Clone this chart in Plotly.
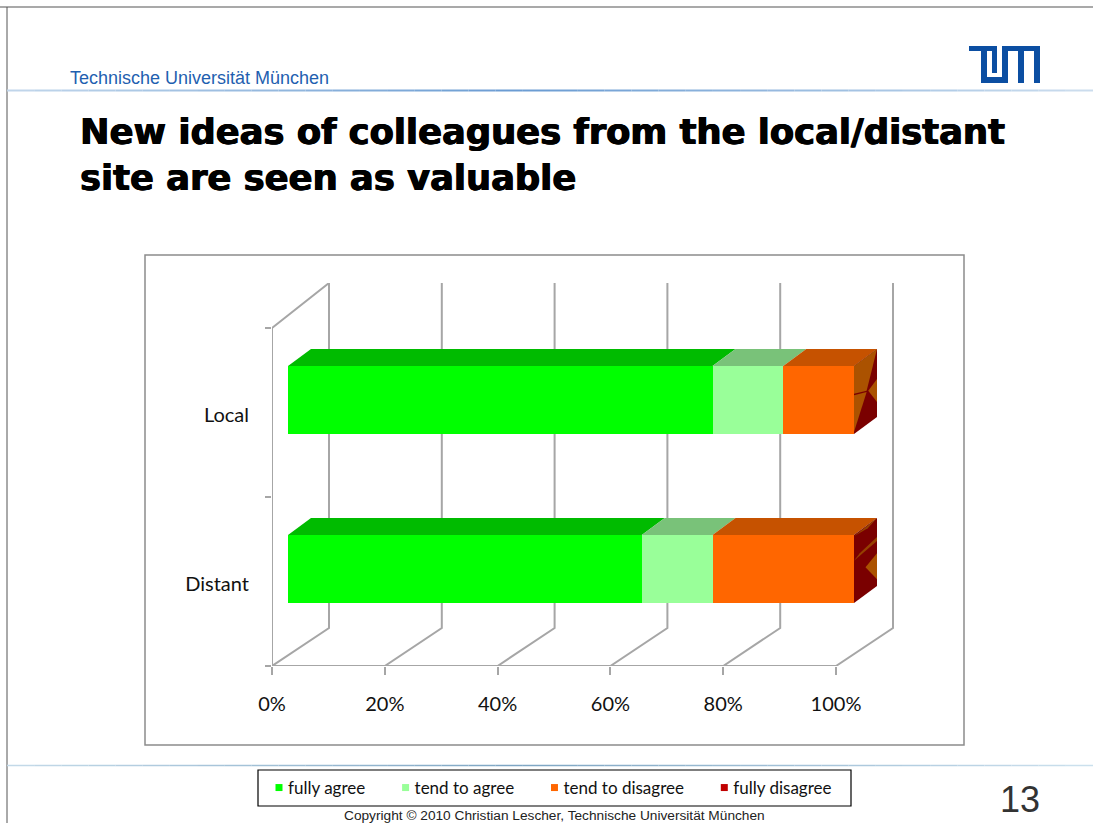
import plotly.graph_objects as go

# --- Data (percent of answers) ---
categories = ["Distant", "Local"]
fully_agree = [62.5, 75.0]
tend_agree = [12.5, 12.5]
tend_disagree = [25.0, 12.5]
fully_disagree = [0.0, 0.0]

tick_vals = [0, 20, 40, 60, 80, 100]
tick_text = ["0%", "20%", "40%", "60%", "80%", "100%"]

W, H = 1093, 823
AXIS_COLOR = "#a6a6a6"
FONT_LABEL = "Lato"
FONT_SLIDE = "Liberation Sans"


def px(x):
    return x / W


def py(y):
    return 1 - y / H


# fake 3D: how far the back wall and the bar tops are pushed, in axis units
WALL_DX = 57 / 5.64
WALL_DY = 38 / 169
WALL_TOP_DY = 45 / 169
BAR_DX = 23 / 5.66
BAR_DY = 17 / 169
BAR_H = 68 / 169
BAR_Y = [0.574, 1.574]

series = [
    ("fully agree", fully_agree, "#00ff00", "#00bb00"),
    ("tend to agree", tend_agree, "#99ff99", "#79c279"),
    ("tend to disagree", tend_disagree, "#ff6600", "#c65200"),
    ("fully disagree", fully_disagree, "#c00000", "#7a0000"),
]

fig = go.Figure()


def add_poly(xs, ys, color, xaxis="x2"):
    fig.add_trace(go.Scatter(
        x=xs + xs[:1], y=ys + ys[:1], xaxis=xaxis, yaxis="y", mode="lines",
        fill="toself", fillcolor=color, line=dict(width=0),
        showlegend=False, hoverinfo="skip",
    ))


def add_wire(xs, ys, width=1.5):
    fig.add_trace(go.Scatter(
        x=xs, y=ys, xaxis="x", yaxis="y", mode="lines", cliponaxis=False,
        line=dict(color=AXIS_COLOR, width=width),
        showlegend=False, hoverinfo="skip",
    ))


# back wall gridlines with their floor diagonals
for t in tick_vals:
    add_wire([t, t + WALL_DX, t + WALL_DX], [0, WALL_DY, 2 + WALL_TOP_DY], width=2)

# left wall and floor
add_wire([0, 0, WALL_DX], [0, 2, 2 + WALL_TOP_DY], width=2)
add_wire([0, 100], [0, 0], width=2)

# front faces of the bars, stacked through base
bases = [0.0, 0.0]
for name, vals, front, top in series:
    fig.add_trace(go.Bar(
        y=BAR_Y, x=vals, base=list(bases), width=BAR_H, orientation="h",
        xaxis="x2", yaxis="y", marker=dict(color=front, line=dict(width=0)),
        showlegend=False, name=name,
    ))
    for i in range(2):
        if vals[i] == 0:
            continue
        x0, x1 = bases[i], bases[i] + vals[i]
        yt = BAR_Y[i] + BAR_H / 2
        add_poly([x0, x1, x1 + BAR_DX, x0 + BAR_DX], [yt, yt, yt + BAR_DY, yt + BAR_DY], top)
    bases = [b + v for b, v in zip(bases, vals)]


# end caps: the empty "fully disagree" slice shows as dark red with brown facets
def cap_poly(i, pts, color):
    end = bases[i]
    y0 = BAR_Y[i] - BAR_H / 2
    xs = [end + u * BAR_DX for u, v in pts]
    ys = [y0 + v * BAR_H + u * BAR_DY for u, v in pts]
    add_poly(xs, ys, color)


BROWN = "#ab5200"
DARK = "#7a0000"
for i in range(2):
    cap_poly(i, [(0, 0), (1, 0), (1, 1), (0, 1)], DARK)
cap_poly(1, [(0, 1), (1, 1), (0.55, 0.5), (0, 0.59)], BROWN)
cap_poly(1, [(0, 0.57), (0.55, 0.48), (0, 0.03)], BROWN)
cap_poly(1, [(0.62, 0.48), (1, 0.56), (1, 0.22)], BROWN)
cap_poly(0, [(0.5, 0.4), (1, 0.48), (1, 0.1)], BROWN)
cap_poly(0, [(0.0, 0.62), (0.25, 0.67), (1, 0.72), (1, 0.66)], "#964000")
cap_poly(0, [(0.0, 0.98), (0.6, 0.95), (1, 1)], "#964000")

# legend entries: small squares, no data. standoff slides the square towards its text
for name, vals, front, top in series:
    fig.add_trace(go.Scatter(
        x=[None], y=[None], xaxis="x", yaxis="y", mode="markers", name=name + "\u00a0",
        marker=dict(symbol="square", size=7, color=front, angle=90, standoff=11),
    ))

shapes = []


def fade_rule(y, x0, x1, peak, width, dark, light, n=40):
    # thin rule that fades to light towards both ends
    for k in range(n):
        a = x0 + (x1 - x0) * k / n
        b = x0 + (x1 - x0) * (k + 1) / n
        m = (a + b) / 2
        d = abs(m - peak) / max(peak - x0, x1 - peak)
        c = [round(dark[j] + (light[j] - dark[j]) * d) for j in range(3)]
        shapes.append(dict(type="line", xref="paper", yref="paper",
                           x0=px(a), x1=px(b), y0=py(y), y1=py(y),
                           line=dict(color=f"rgb({c[0]},{c[1]},{c[2]})", width=width)))


# slide frame, rules, chart frame, legend box
shapes.append(dict(type="line", xref="paper", yref="paper", x0=0, x1=1,
                   y0=py(7), y1=py(7), line=dict(color="#8c8c8c", width=1.5)))
shapes.append(dict(type="line", xref="paper", yref="paper", x0=px(7), x1=px(7),
                   y0=py(7), y1=0, line=dict(color="#555555", width=1)))
fade_rule(90.5, 7, W, 520, 2, (105, 155, 210), (205, 222, 238))
fade_rule(765.5, 7, W, 520, 1.5, (125, 165, 195), (205, 225, 238))
shapes.append(dict(type="rect", xref="paper", yref="paper", x0=px(145), x1=px(964),
                   y0=py(745), y1=py(255), line=dict(color="#8c8c8c", width=1.5)))
shapes.append(dict(type="rect", xref="paper", yref="paper", x0=px(258), x1=px(851),
                   y0=py(806), y1=py(770), line=dict(color="#000000", width=1.2)))

# TUM logo
logo = [(969, 46), (997, 46), (997, 73), (992, 73), (992, 51), (987, 51), (987, 77), (1002, 77),
        (1002, 46), (1040, 46), (1040, 83), (1034, 83), (1034, 51), (1024, 51), (1024, 83),
        (1018, 83), (1018, 51), (1008, 51), (1008, 83), (981, 83), (981, 51), (969, 51)]
logo_path = "M " + " L ".join(f"{px(x):.5f},{py(y):.5f}" for x, y in logo) + " Z"
shapes.append(dict(type="path", xref="paper", yref="paper", path=logo_path,
                   fillcolor="#0b4ea2", line=dict(width=0)))

annotations = [
    dict(text="Technische Universität München", x=px(68), y=py(78), xref="paper", yref="paper",
         xanchor="left", yanchor="middle", showarrow=False,
         font=dict(family=FONT_SLIDE, size=18, color="#1f5fb0")),
    dict(text="13", x=px(1020), y=py(799), xref="paper", yref="paper",
         xanchor="center", yanchor="middle", showarrow=False,
         font=dict(family=FONT_SLIDE, size=36, color="#333333")),
    dict(text="Copyright © 2010 Christian Lescher, Technische Universität München",
         x=px(554), y=py(815), xref="paper", yref="paper",
         xanchor="center", yanchor="middle", showarrow=False,
         font=dict(family=FONT_SLIDE, size=13.7, color="#222222")),
]

fig.update_layout(
    width=W, height=H,
    margin=dict(l=0, r=0, t=0, b=0, autoexpand=False),
    paper_bgcolor="white", plot_bgcolor="rgba(0,0,0,0)",
    barmode="overlay", bargap=0,
    title=dict(
        text="New ideas of colleagues from the local/distant<br>site are seen as valuable",
        x=px(80), xanchor="left", xref="paper", y=py(144), yanchor="middle", yref="container",
        font=dict(family="DejaVu Sans", size=35.3, color="black", weight="bold",
                  shadow="0.6px 0 0 black, -0.6px 0 0 black"),
    ),
    xaxis=dict(
        domain=[px(272), px(894)], range=[0, (894 - 272) / 5.64], anchor="y",
        tickmode="array", tickvals=tick_vals, ticktext=tick_text,
        ticks="outside", ticklen=8, tickcolor=AXIS_COLOR, tickwidth=1.5,
        showgrid=False, zeroline=False, showline=False, ticklabelstandoff=12,
        tickfont=dict(family=FONT_LABEL, size=20, color="#111111"),
    ),
    # overlaying axes share the base domain, so the 16px bar offset goes into the range
    xaxis2=dict(
        range=[-16 / 5.66, (894 - 272 - 16) / 5.66], overlaying="x", anchor="y",
        visible=False,
    ),
    yaxis=dict(
        domain=[py(666), py(283)], range=[0, 2 + WALL_TOP_DY], anchor="x",
        tickmode="array", tickvals=[0.485, 1.485], ticktext=categories,
        ticks="", showgrid=False, zeroline=False, showline=False, ticklabelstandoff=22,
        tickfont=dict(family=FONT_LABEL, size=20, color="#111111"),
        minor=dict(tickmode="array", tickvals=[0, 1, 2], ticks="outside", ticklen=6,
                   tickcolor=AXIS_COLOR, tickwidth=1.5, showgrid=False),
    ),
    legend=dict(
        orientation="h", x=px(248), xanchor="left", y=py(788), yanchor="middle",
        font=dict(family=FONT_LABEL, size=17, color="#111111"),
        bgcolor="rgba(0,0,0,0)", borderwidth=0, traceorder="normal",
    ),
    shapes=shapes,
    annotations=annotations,
    hovermode=False,
)

# the default page keeps an 8px body margin, the slide needs to start at the corner
fig.write_html("out.html", config={"displayModeBar": False},
               post_script="document.body.style.margin='0';")
